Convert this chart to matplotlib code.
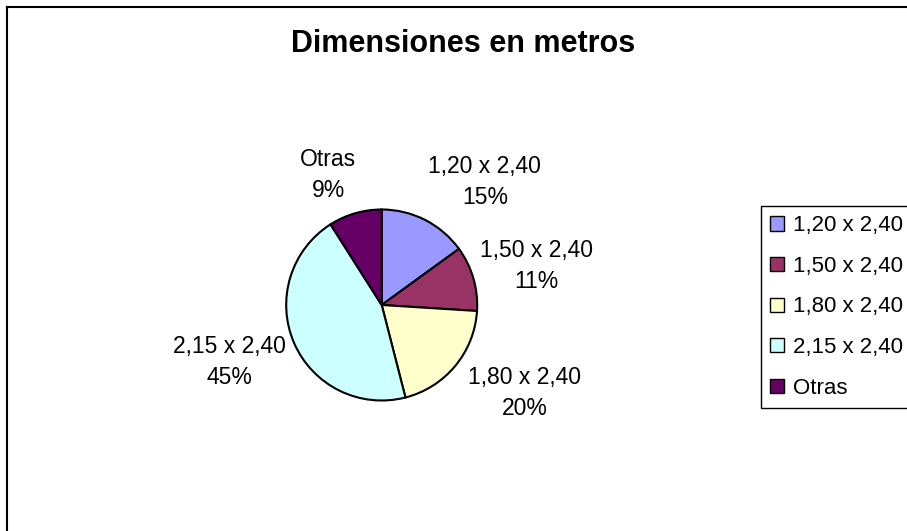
import matplotlib
matplotlib.use("Agg")
from matplotlib import pyplot as plt
from matplotlib.patches import Patch
from matplotlib.lines import Line2D

plt.rcParams['font.family'] = ['Liberation Sans', 'DejaVu Sans']

# data
categories = ["1,20 x 2,40", "1,50 x 2,40", "1,80 x 2,40", "2,15 x 2,40", "Otras"]
percentages = [15, 11, 20, 45, 9]
colors = ["#9999FF", "#993366", "#FFFFCC", "#CCFFFF", "#660066"]
title = "Dimensiones en metros"

# where Excel put each data label (in pie-radius units, pie centre = 0,0)
label_pos = [(1.08, 1.29), (1.62, 0.41), (1.50, -0.92), (-1.59, -0.60), (-0.56, 1.36)]

W, H = 907, 531
fig = plt.figure(figsize=(W / 100, H / 100), dpi=100)

# pie centre at (381.7, 305) px, radius ~95.5 px
cx, cy, r = 381.7, 305, 95.5
ax = fig.add_axes([(cx - 2 * r) / W, (H - cy - 2 * r) / H, 4 * r / W, 4 * r / H])
wedges, _ = ax.pie(percentages, colors=colors, startangle=90, counterclock=False,
                   radius=1, wedgeprops=dict(edgecolor="black", linewidth=1.5))
ax.set_xlim(-2, 2)
ax.set_ylim(-2, 2)
ax.axis("off")

for cat, pct, (x, y) in zip(categories, percentages, label_pos):
    ax.text(x, y, "%s\n%d%%" % (cat, pct), ha="center", va="center",
            fontsize=16.5, linespacing=1.45, clip_on=False)

fig.text(463 / W, 1 - 44 / H, title, ha="center", va="center",
         fontsize=22, fontweight="bold")

# chart border (only top and left visible in the crop)
fig.add_artist(Line2D([7 / W, 7 / W], [0, 1 - 7 / H], color="black", lw=1.5))
fig.add_artist(Line2D([7 / W, 1], [1 - 7 / H, 1 - 7 / H], color="black", lw=1.5))

handles = [Patch(facecolor=c, edgecolor="black", linewidth=1) for c in colors]
leg = fig.legend(handles, categories, loc="upper left",
                 bbox_to_anchor=(761 / W, 1 - 206 / H), borderaxespad=0,
                 fontsize=16, frameon=True, fancybox=False, edgecolor="black",
                 framealpha=1, handlelength=0.6, handleheight=0.6,
                 handletextpad=0.4, labelspacing=0.88, borderpad=0.42)
leg.get_frame().set_linewidth(1)

fig.savefig("out.png", dpi=100)
